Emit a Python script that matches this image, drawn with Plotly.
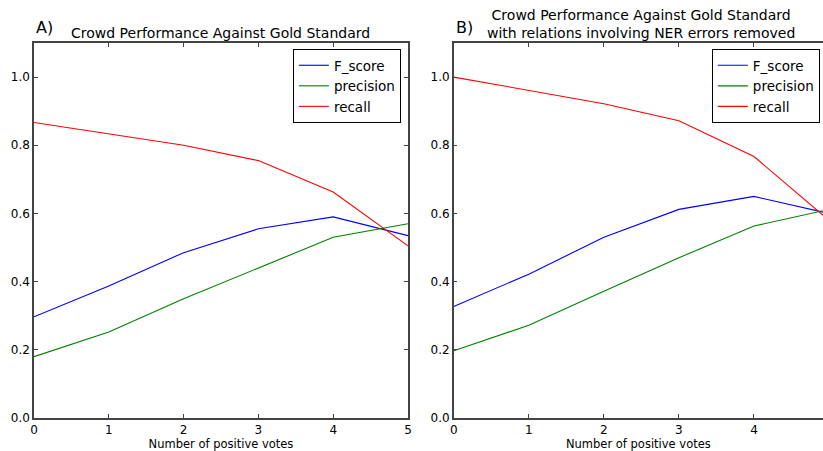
import plotly.graph_objects as go

votes = [0, 1, 2, 3, 4, 5]

# Panel A
a_fscore = [0.297, 0.387, 0.485, 0.555, 0.590, 0.535]
a_precision = [0.180, 0.252, 0.350, 0.440, 0.530, 0.570]
a_recall = [0.867, 0.833, 0.800, 0.755, 0.663, 0.505]

# Panel B
b_fscore = [0.327, 0.422, 0.530, 0.612, 0.650, 0.600]
b_precision = [0.197, 0.272, 0.372, 0.470, 0.563, 0.612]
b_recall = [1.000, 0.962, 0.922, 0.872, 0.767, 0.580]

series_names = ["F_score", "precision", "recall"]
colors = ["#0000ff", "#008000", "#ff0000"]

y_ticks = [0.0, 0.2, 0.4, 0.6, 0.8, 1.0]
y_ticklabels = ["0.0", "0.2", "0.4", "0.6", "0.8", "1.0"]

FONT = "DejaVu Sans"

fig = go.Figure()
for name, vals, c in zip(series_names, [a_fscore, a_precision, a_recall], colors):
    fig.add_trace(go.Scatter(x=votes, y=vals, mode="lines", name=name,
                             line=dict(color=c, width=1.1), xaxis="x", yaxis="y",
                             legend="legend"))
for name, vals, c in zip(series_names, [b_fscore, b_precision, b_recall], colors):
    fig.add_trace(go.Scatter(x=votes, y=vals, mode="lines", name=name,
                             line=dict(color=c, width=1.1), xaxis="x2", yaxis="y2",
                             legend="legend2"))

axis_common = dict(showline=True, linecolor="#444", linewidth=1.5, ticks="inside",
                   ticklen=4, tickcolor="#444", showgrid=False, zeroline=False,
                   automargin=False,
                   tickfont=dict(family=FONT, size=12, color="black"))

fig.update_layout(
    width=823, height=451,
    margin=dict(l=34, r=0, t=43, b=33, autoexpand=False),
    paper_bgcolor="white", plot_bgcolor="white",
    font=dict(family=FONT, size=12, color="black"),
    xaxis=dict(domain=[0, 0.474], range=[0, 5], tickvals=votes, mirror="ticks",
               title=dict(text="Number of positive votes", font=dict(size=11.5), standoff=2),
               **axis_common),
    yaxis=dict(domain=[0, 1], range=[0, 1.1], tickvals=y_ticks, ticktext=y_ticklabels,
               mirror="ticks", **axis_common),
    xaxis2=dict(domain=[0.532, 1], range=[0, 4.92], tickvals=votes, mirror="ticks",
                anchor="y2",
                title=dict(text="Number of positive votes", font=dict(size=11.5), standoff=2),
                **axis_common),
    yaxis2=dict(domain=[0, 1], range=[0, 1.1], tickvals=y_ticks, ticktext=y_ticklabels,
                anchor="x2", mirror=False, **axis_common),
    legend=dict(x=0.465, y=0.984, xanchor="right", yanchor="top",
                bordercolor="black", borderwidth=1, bgcolor="white",
                font=dict(family=FONT, size=13.5), itemwidth=30, tracegroupgap=0),
    legend2=dict(x=0.996, y=0.984, xanchor="right", yanchor="top",
                 bordercolor="black", borderwidth=1, bgcolor="white",
                 font=dict(family=FONT, size=13.5), itemwidth=30, tracegroupgap=0),
    annotations=[
        dict(text="A)", x=0.0, y=1.0, xref="paper", yref="paper", xanchor="left",
             yanchor="bottom", yshift=4, showarrow=False, font=dict(family=FONT, size=16)),
        dict(text="B)", x=0.532, y=1.0, xref="paper", yref="paper", xanchor="left",
             yanchor="bottom", yshift=4, showarrow=False, font=dict(family=FONT, size=16)),
        dict(text="Crowd Performance Against Gold Standard", x=0.237, y=1.0,
             xref="paper", yref="paper", xanchor="center", yanchor="bottom", yshift=0,
             showarrow=False, font=dict(family=FONT, size=14)),
        dict(text="Crowd Performance Against Gold Standard<br>with relations involving NER errors removed",
             x=0.769, y=1.0, xref="paper", yref="paper", xanchor="center", yanchor="bottom",
             yshift=0, showarrow=False, font=dict(family=FONT, size=14)),
    ],
)

fig.write_html("out.html", config={"displayModeBar": False},
               post_script="document.body.style.margin='0';document.body.style.overflow='hidden';")
